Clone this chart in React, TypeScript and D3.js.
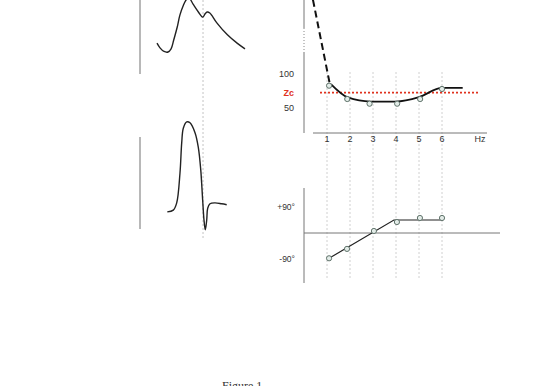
import React from "react";
import * as d3 from "d3";

// ---- data ----
// shared time axis (fraction of cardiac cycle) for the two waveforms
const pressureT = [0, 0.034, 0.08, 0.125, 0.16, 0.19, 0.23, 0.26, 0.3, 0.33, 0.36, 0.41, 0.47, 0.52, 0.545, 0.57, 0.6, 0.68, 0.8, 0.91, 1.0];
const pressureV = [17, 8, 1, 0, 6, 23, 48, 71, 90, 100, 105, 92, 77, 67, 73, 77, 75, 56, 33, 17, 6];
const flowT = [0.117, 0.185, 0.224, 0.261, 0.281, 0.299, 0.338, 0.375, 0.432, 0.469, 0.497, 0.519, 0.534, 0.549, 0.565, 0.576, 0.602, 0.659, 0.735, 0.792];
const flowV = [-1, 1, 9, 42, 76, 92, 99, 98, 87, 71, 46, 12, -10, -21, -10, 3, 8, 9, 8, 7];
const notchT = 0.523;

// impedance modulus
const freqTicks = [1, 2, 3, 4, 5, 6];
const modTickValues = [100, 50];
const zcValue = 72.5;
const modDashF = [0.39, 1.13];
const modDashV = [209, 84];
const modLineF = [1.17, 1.9, 2.9, 4.0, 5.0, 6.0, 6.9];
const modLineV = [85, 65.5, 59.5, 59.5, 66, 79.5, 79.5];
const modPointF = [1.09, 1.88, 2.85, 4.05, 5.05, 6.0];
const modPointV = [82.8, 63.2, 56.3, 56.3, 63.2, 78];

// impedance phase
const phaseTickValues = [90, -90];
const phaseTickLabels = ["+90°", "-90°"];
const phaseLineF = [1.09, 3.91, 6.04];
const phaseLineV = [-87.5, 45, 45];
const phasePointF = [1.09, 1.87, 3.04, 4.04, 5.04, 6.0];
const phasePointV = [-87.5, -55, 7, 38, 52, 52];

const FONT = "'Liberation Sans', Arial, Helvetica, sans-serif";

export default function App() {
  // waveform scales
  const tx = d3.scaleLinear().domain([0, 1]).range([157, 245]);
  const py = d3.scaleLinear().domain([0, 100]).range([52, 0]);
  const fy = d3.scaleLinear().domain([0, 100]).range([211, 121]);

  const pressLine = d3
    .line<number>()
    .x((_, i) => tx(pressureT[i]))
    .y((d) => py(d))
    .curve(d3.curveCatmullRom.alpha(0.5));
  const flowLine = d3
    .line<number>()
    .x((_, i) => tx(flowT[i]))
    .y((d) => fy(d))
    .curve(d3.curveCatmullRom.alpha(0.5));

  // frequency scale (shared)
  const fx = d3.scaleLinear().domain([0, 6]).range([304, 442]);
  const my = d3.scaleLinear().domain([50, 100]).range([108, 74]);
  const phy = d3.scaleLinear().domain([-90, 90]).range([259, 207]);

  const modDash = d3
    .line<number>()
    .x((_, i) => fx(modDashF[i]))
    .y((d) => my(d));
  const modLine = d3
    .line<number>()
    .x((_, i) => fx(modLineF[i]))
    .y((d) => my(d))
    .curve(d3.curveMonotoneX);
  const phLine = d3
    .line<number>()
    .x((_, i) => fx(phaseLineF[i]))
    .y((d) => phy(d));

  const circleStyle = { fill: "#e3ece8", stroke: "#5f726a", strokeWidth: 1 };

  return (
    <svg
      width={536}
      height={386}
      style={{ position: "absolute", left: 0, top: 0, background: "#fff" }}
    >
      <rect x={0} y={0} width={536} height={386} fill="#fff" />

      {/* ----- waveforms ----- */}
      <line x1={140} x2={140} y1={0} y2={74} stroke="#b8b8b8" strokeWidth={2} />
      <line x1={140} x2={140} y1={137} y2={229} stroke="#b8b8b8" strokeWidth={2} />
      <line
        x1={tx(notchT)}
        x2={tx(notchT)}
        y1={0}
        y2={240}
        stroke="#b5b5b5"
        strokeWidth={0.8}
        strokeDasharray="2,2"
      />
      <path d={pressLine(pressureV) || ""} fill="none" stroke="#222" strokeWidth={1.4} />
      <path d={flowLine(flowV) || ""} fill="none" stroke="#222" strokeWidth={1.4} />

      {/* ----- frequency gridlines ----- */}
      {freqTicks.map((f) => (
        <line
          key={"g" + f}
          x1={fx(f)}
          x2={fx(f)}
          y1={72}
          y2={280}
          stroke="#c4c4c4"
          strokeWidth={0.8}
          strokeDasharray="2,2"
        />
      ))}

      {/* ----- modulus chart ----- */}
      <line x1={304} x2={304} y1={0} y2={28} stroke="#777" strokeWidth={1} />
      <line x1={304} x2={304} y1={28} y2={52} stroke="#888" strokeWidth={1} strokeDasharray="1,2" />
      <line x1={304} x2={304} y1={52} y2={133} stroke="#777" strokeWidth={1} />
      <line x1={313} x2={487} y1={133} y2={133} stroke="#777" strokeWidth={1} />
      {freqTicks.map((f) => (
        <text
          key={"t" + f}
          x={fx(f)}
          y={139}
          fontSize={9}
          fontFamily={FONT}
          fill="#333"
          textAnchor="middle"
          dominantBaseline="central"
        >
          {f}
        </text>
      ))}
      <text x={480} y={139} fontSize={9} fontFamily={FONT} fill="#333" textAnchor="middle" dominantBaseline="central">
        Hz
      </text>
      {modTickValues.map((v) => (
        <text
          key={"m" + v}
          x={294}
          y={my(v)}
          fontSize={9}
          fontFamily={FONT}
          fill="#333"
          textAnchor="end"
          dominantBaseline="central"
        >
          {v}
        </text>
      ))}
      <text
        x={294}
        y={my(zcValue)}
        fontSize={9}
        fontWeight="bold"
        fontFamily={FONT}
        fill="#e0321e"
        textAnchor="end"
        dominantBaseline="central"
      >
        Zc
      </text>
      <line
        x1={320}
        x2={478}
        y1={my(zcValue)}
        y2={my(zcValue)}
        stroke="#e0321e"
        strokeWidth={1.8}
        strokeDasharray="2,2"
      />
      <path d={modDash(modDashV) || ""} fill="none" stroke="#111" strokeWidth={2} strokeDasharray="7,4" />
      <path d={modLine(modLineV) || ""} fill="none" stroke="#111" strokeWidth={1.8} />
      {modPointV.map((v, i) => (
        <circle key={"mp" + i} cx={fx(modPointF[i])} cy={my(v)} r={2.6} style={circleStyle} />
      ))}

      {/* ----- phase chart ----- */}
      <line x1={304} x2={304} y1={188} y2={283} stroke="#777" strokeWidth={1} />
      <line x1={304} x2={500} y1={phy(0)} y2={phy(0)} stroke="#777" strokeWidth={1} />
      {phaseTickValues.map((v, i) => (
        <text
          key={"p" + v}
          x={295}
          y={phy(v)}
          fontSize={8.5}
          fontFamily={FONT}
          fill="#333"
          textAnchor="end"
          dominantBaseline="central"
        >
          {phaseTickLabels[i]}
        </text>
      ))}
      <path d={phLine(phaseLineV) || ""} fill="none" stroke="#222" strokeWidth={1.2} />
      {phasePointV.map((v, i) => (
        <circle key={"pp" + i} cx={fx(phasePointF[i])} cy={phy(v)} r={2.6} style={circleStyle} />
      ))}

      {/* ----- caption ----- */}
      <text x={222} y={390} fontSize={12} fontFamily="'Liberation Serif', 'Times New Roman', serif" fill="#333">
        Figure 1
      </text>
    </svg>
  );
}
